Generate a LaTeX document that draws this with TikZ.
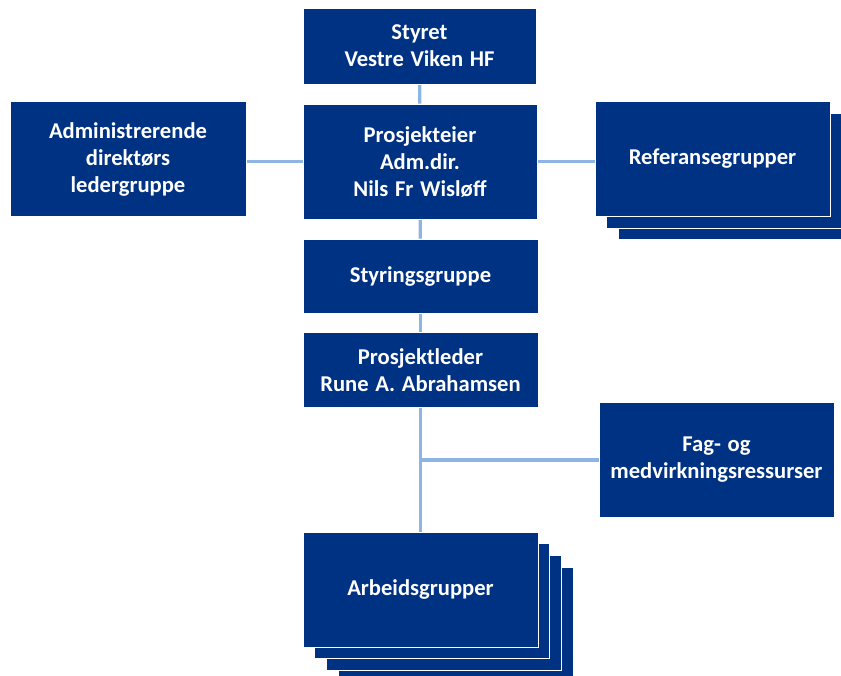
\documentclass[tikz,border=0pt]{standalone}
\usepackage{fontspec}
\setmainfont{Carlito}[WordSpace=1.3]
\usetikzlibrary{backgrounds}
\definecolor{navy}{HTML}{003283}
\definecolor{linkblue}{HTML}{8EB4E3}
\begin{document}
\begin{tikzpicture}[x=1pt,y=-1pt,
  orgbox/.style={rectangle,fill=navy,draw=white,line width=0.8pt,text=white,align=center,inner sep=0pt,
    minimum width=235pt,minimum height=115pt,font=\bfseries\fontsize{22.6}{27}\selectfont},
  link/.style={draw=linkblue,line width=3.2pt}]
\useasboundingbox (0,0) rectangle (841,675);
% Top column
\node(styret)[orgbox,minimum width=233pt,minimum height=76pt] at (419.5,46) {Styret\\Vestre Viken HF};
\node(eier)[orgbox,minimum width=234pt] at (420,161.5) {Prosjekteier\\Adm.dir.\\Nils Fr Wisløff};
\node(styring)[orgbox,minimum height=74pt] at (420.5,276) {Styringsgruppe};
\node(leder)[orgbox,minimum height=75pt] at (420.5,370) {Prosjektleder\\Rune A. Abrahamsen};
% Sides
\node(admin)[orgbox,minimum width=236pt] at (128,159) {Administrerende\\direktørs\\ledergruppe};
\node(ref3)[orgbox] at (735.5,182) {};
\node(ref2)[orgbox] at (724,170.5) {};
\node(ref)[orgbox] at (712.5,159) {\raisebox{-2pt}{Referansegrupper}};
\node(fag)[orgbox] at (716.5,460) {Fag- og\\medvirkningsressurser};
% Bottom stack
\node(arb4)[orgbox] at (455.5,624.5) {};
\node(arb3)[orgbox] at (443.8,612.8) {};
\node(arb2)[orgbox] at (432.2,601.2) {};
\node(arb)[orgbox] at (420.5,589.5) {Arbeidsgrupper};
\coordinate(fork) at (420,460);
% Connectors
\begin{scope}[on background layer]
\draw[link] (styret) -- (eier);
\draw[link] (eier) -- (styring);
\draw[link] (styring) -- (leder);
\draw[link] (leder) -- (arb);
\draw[link] (eier.west) -- (eier.west -| admin.east);
\draw[link] (eier.east) -- (eier.east -| ref.west);
\draw[link] (fork) -- (fag.west);
\end{scope}
\end{tikzpicture}
\end{document}
